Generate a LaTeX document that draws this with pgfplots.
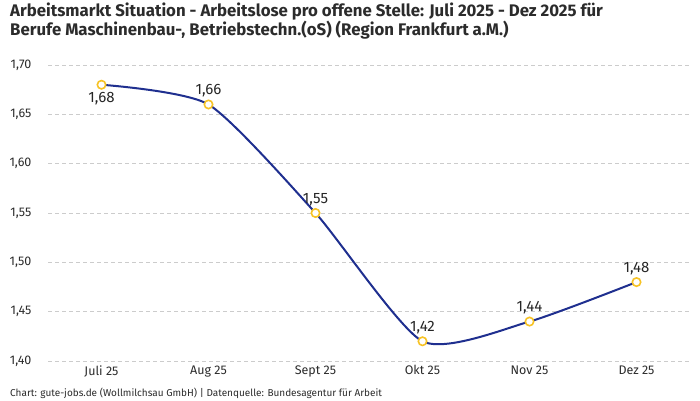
\documentclass[border=0pt]{standalone}
\usepackage{fontspec}
\setmainfont{Fira Sans}
\usepackage{pgfplots}
\pgfplotsset{compat=1.18}
\definecolor{linie}{HTML}{1F2F8F}
\definecolor{punkt}{HTML}{F7C325}
\definecolor{gitter}{HTML}{CCCCCC}
\definecolor{textgrau}{HTML}{2B2B2B}
\begin{document}
\begin{tikzpicture}[x=1pt,y=1pt]
\path[use as bounding box] (0,0) rectangle (700,400);
% Titel
\node[anchor=north west, align=left, inner sep=0, text=textgrau,
      font=\bfseries\fontsize{16.8}{18.5}\selectfont] at (10,397)
  {Arbeitsmarkt Situation - Arbeitslose pro offene Stelle: Juli 2025 - Dez 2025 für\\
   Berufe Maschinenbau-, Betriebstechn.(oS) (Region Frankfurt a.M.)};
\begin{axis}[
    at={(48pt,39pt)}, anchor=south west,
    scale only axis, width=642pt, height=296pt,
    xmin=-0.5, xmax=5.5,
    ymin=1.4, ymax=1.7,
    xtick={0,1,2,3,4,5},
    xticklabels={Juli 25,Aug 25,Sept 25,Okt 25,Nov 25,Dez 25},
    ytick={1.40,1.45,1.50,1.55,1.60,1.65,1.70},
    axis line style={draw=none},
    tick style={draw=none},
    ymajorgrids,
    grid style={gitter, dash pattern=on 4pt off 3pt, line width=0.8pt},
    ticklabel style={font=\fontsize{12.5}{14}\selectfont, text=textgrau},
    yticklabel style={xshift=-13pt, /pgf/number format/.cd, use comma, fixed, fixed zerofill,
        precision=2, assume math mode=true},
    xticklabel style={yshift=-1pt},
    clip=false,
  ]
\addplot[linie, line width=2pt, smooth, tension=0.38] coordinates {
  (0,1.68) (1,1.66) (2,1.55) (3,1.42) (4,1.44) (5,1.48)
};
\addplot[only marks, mark=*, mark size=4.2pt,
  mark options={draw=punkt, fill=white, line width=1.6pt},
  point meta=explicit symbolic, nodes near coords,
  nodes near coords align={above},
  nodes near coords style={yshift=3pt, font=\fontsize{15}{17}\selectfont, text=black!85}]
  coordinates {
  (1,1.66) [{1,66}] (2,1.55) [{1,55}] (3,1.42) [{1,42}] (4,1.44) [{1,44}] (5,1.48) [{1,48}]
};
\addplot[only marks, mark=*, mark size=4.2pt,
  mark options={draw=punkt, fill=white, line width=1.6pt},
  point meta=explicit symbolic, nodes near coords,
  nodes near coords align={below},
  nodes near coords style={yshift=-3pt, font=\fontsize{15}{17}\selectfont, text=black!85}]
  coordinates {
  (0,1.68) [{1,68}]
};
\end{axis}
% Fusszeile
\node[anchor=west, inner sep=0, text=textgrau, font=\fontsize{10}{11}\selectfont]
  at (10,7) {Chart: gute-jobs.de (Wollmilchsau GmbH) | Datenquelle: Bundesagentur für Arbeit};
\end{tikzpicture}
\end{document}
